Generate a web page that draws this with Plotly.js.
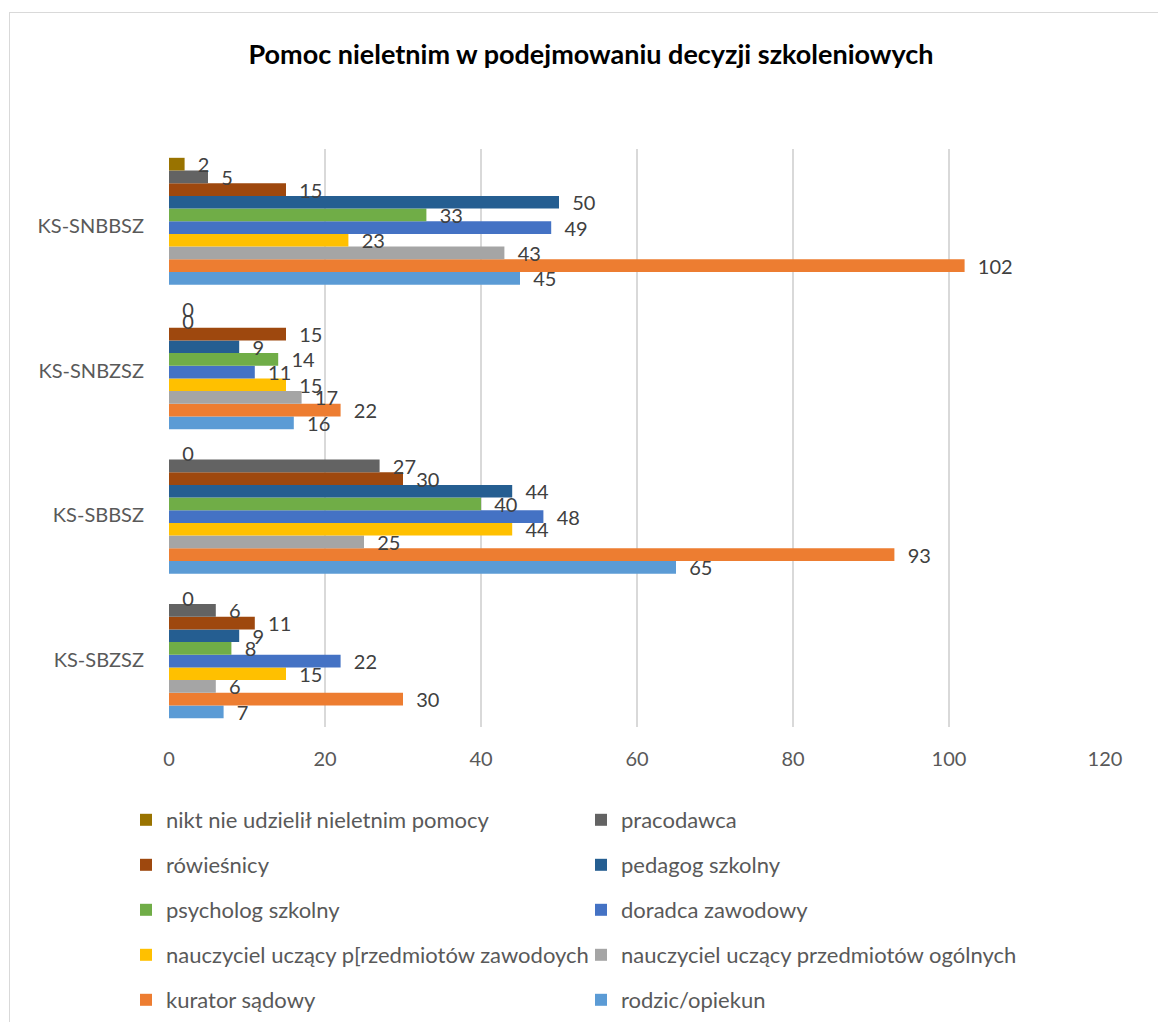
<!DOCTYPE html>
<html>
<head>
<meta charset="utf-8">
<script src="https://cdn.plot.ly/plotly-3.0.1.min.js"></script>
<style>
html,body{margin:0;padding:0;background:#ffffff;}
#chart{width:1158px;height:1022px;}
#frame{position:absolute;left:9px;top:12px;right:0;bottom:0;border-left:1px solid #d9d9d9;border-top:1px solid #d9d9d9;pointer-events:none;}
</style>
</head>
<body>
<div id="chart"></div>
<div id="frame"></div>
<script>
// Categories (bottom to top, as in the source chart)
const categories = ['KS-SBZSZ', 'KS-SBBSZ', 'KS-SNBZSZ', 'KS-SNBBSZ'];

// Series names in legend order
const seriesNames = [
  'nikt nie udzielił nieletnim pomocy',
  'pracodawca',
  'rówieśnicy',
  'pedagog szkolny',
  'psycholog szkolny',
  'doradca zawodowy',
  'nauczyciel uczący p[rzedmiotów zawodoych',
  'nauczyciel uczący przedmiotów ogólnych',
  'kurator sądowy',
  'rodzic/opiekun'
];

// Values per series, in the category order above
const nikt        = [0, 0, 0, 2];
const pracodawca  = [6, 27, 0, 5];
const rowiesnicy  = [11, 30, 15, 15];
const pedagog     = [9, 44, 9, 50];
const psycholog   = [8, 40, 14, 33];
const doradca     = [22, 48, 11, 49];
const nauczZawod  = [15, 44, 15, 23];
const nauczOgol   = [6, 25, 17, 43];
const kurator     = [30, 93, 22, 102];
const rodzic      = [7, 65, 16, 45];

const xTickValues = [0, 20, 40, 60, 80, 100, 120];

const seriesValues = [nikt, pracodawca, rowiesnicy, pedagog, psycholog, doradca, nauczZawod, nauczOgol, kurator, rodzic];
const seriesColors = ['#997300', '#636363', '#9E480E', '#255E91', '#70AD47', '#4472C4', '#FFC000', '#A5A5A5', '#ED7D31', '#5B9BD5'];

const FONT = 'Lato, "Open Sans", sans-serif';
const legendKeys = ['legend', 'legend2', 'legend3', 'legend4', 'legend5'];

const traces = [];
for (let i = seriesNames.length - 1; i >= 0; i--) {
  traces.push({
    type: 'bar',
    orientation: 'h',
    name: seriesNames[i],
    y: categories,
    x: seriesValues[i],
    marker: {color: seriesColors[i]},
    texttemplate: '\u00a0\u00a0%{x}',
    textposition: 'outside',
    constraintext: 'none',
    cliponaxis: false,
    textfont: {family: FONT, size: 20, color: '#404040'},
    legend: legendKeys[Math.floor(i / 2)],
    legendrank: i + 1,
    hoverinfo: 'skip'
  });
}

const rowYs = [820, 865, 910, 955, 1000];
const layout = {
  width: 1158,
  height: 1022,
  paper_bgcolor: 'rgba(0,0,0,0)',
  plot_bgcolor: 'rgba(0,0,0,0)',
  margin: {l: 169, r: 53, t: 149, b: 295},
  barmode: 'group',
  bargap: 0.122,
  bargroupgap: 0,
  hovermode: false,
  title: {
    text: '<b>Pomoc nieletnim w podejmowaniu decyzji szkoleniowych</b>',
    font: {family: FONT, size: 27, color: '#000000'},
    xref: 'container', x: 591 / 1158, xanchor: 'center',
    yref: 'container', y: 1 - 55 / 1022, yanchor: 'middle'
  },
  xaxis: {
    range: [0, 120],
    tickvals: xTickValues,
    ticktext: xTickValues.map(String),
    showgrid: true,
    gridcolor: '#d9d9d9',
    gridwidth: 2,
    zeroline: false,
    showline: false,
    ticks: '',
    ticklabelstandoff: 18,
    tickfont: {family: FONT, size: 20, color: '#595959'}
  },
  yaxis: {
    type: 'category',
    categoryorder: 'array',
    categoryarray: categories,
    range: [-0.5, 3.5],
    showgrid: false,
    zeroline: false,
    showline: false,
    ticks: '',
    ticklabelstandoff: 24,
    ticklabelshift: 5,
    tickfont: {family: FONT, size: 20, color: '#595959'}
  },
  showlegend: true
};

legendKeys.forEach((k, idx) => {
  layout[k] = {
    orientation: 'h',
    xref: 'container', yref: 'container',
    x: 126 / 1158, xanchor: 'left',
    y: 1 - rowYs[idx] / 1022, yanchor: 'middle',
    entrywidth: 410, entrywidthmode: 'pixels',
    font: {family: FONT, size: 22, color: '#595959'},
    bgcolor: 'rgba(0,0,0,0)',
    borderwidth: 0,
    traceorder: 'normal'
  };
});

Plotly.newPlot('chart', traces, layout, {displayModeBar: false, staticPlot: true});
</script>
</body>
</html>
